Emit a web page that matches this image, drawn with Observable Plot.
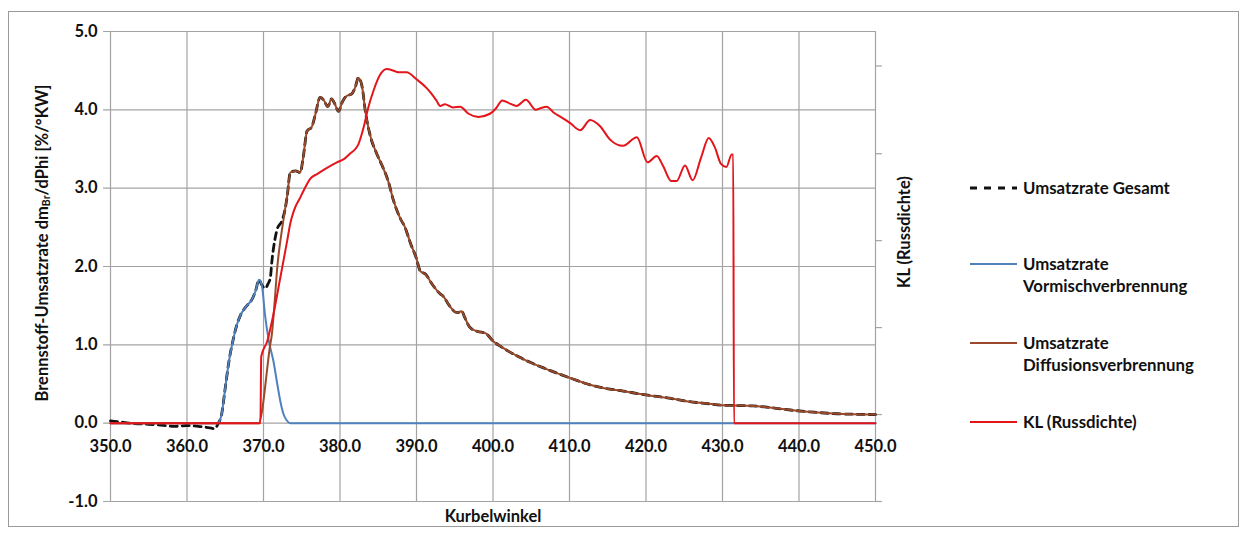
<!DOCTYPE html>
<html>
<head>
<meta charset="utf-8">
<script src="https://cdn.jsdelivr.net/npm/d3@7"></script>
<script src="https://cdn.jsdelivr.net/npm/@observablehq/plot@0.6"></script>
<style>
  body { margin: 0; background: #fff; font-family: Lato, "Open Sans", sans-serif; }
  #wrap { position: relative; width: 1246px; height: 540px; }
  #chart { position: absolute; left: 0; top: 0; }
  .frame { position: absolute; left: 8px; top: 11px; width: 1231px; height: 516px; border: 1.5px solid #9a9a9a; box-sizing: border-box; pointer-events: none; }
  .t { position: absolute; font-weight: 700; font-size: 16.5px; color: #111; white-space: nowrap; }
  .leg { position: absolute; font-weight: 700; font-size: 16.8px; color: #111; line-height: 22px; white-space: nowrap; }
  .sw { position: absolute; }
</style>
</head>
<body>
<div id="wrap">
  <div id="chart"></div>
</div>
<script>
// ---- data ----
const xTicks = [350, 360, 370, 380, 390, 400, 410, 420, 430, 440, 450];
const yTicks = [-1, 0, 1, 2, 3, 4, 5];
// secondary (KL) axis ticks, expressed in primary-axis units
const rightTicks = [-1.0, 0.11, 1.22, 2.33, 3.44, 4.56];

const seriesNames = ["Umsatzrate Gesamt", "Umsatzrate Vormischverbrennung", "Umsatzrate Diffusionsverbrennung", "KL (Russdichte)"];

const gesamtX = [350, 351, 352.5, 354, 356, 358.5, 360, 361.5, 363, 363.6, 364.1, 364.5, 365, 365.5, 366, 366.5, 367, 367.5, 368, 368.5, 369, 369.4, 369.8, 370.2, 370.6, 370.9, 371.1, 371.5, 371.8, 372.4, 372.8, 373.1, 373.5, 374.2, 374.8, 375.2, 375.7, 376.3, 376.8, 377.4, 377.9, 378.4, 378.9, 379.3, 379.8, 380.3, 380.9, 381.5, 382.0, 382.4, 382.9, 383.3, 383.9, 384.8, 385.5, 386.3, 387.0, 387.9, 388.5, 389.2, 390, 390.5, 391.2, 392, 393.1, 393.5, 394.3, 395.3, 395.9, 396.3, 397.0, 398, 399, 400, 401, 402, 403.5, 405, 407, 410, 412, 414.4, 417, 420, 423, 425.3, 428, 430, 434, 437, 439.6, 442, 445, 450];
const gesamtY = [0.03, 0.02, 0.0, -0.01, -0.02, -0.04, -0.03, -0.04, -0.06, -0.07, 0.0, 0.1, 0.45, 0.8, 1.05, 1.25, 1.38, 1.46, 1.52, 1.58, 1.7, 1.83, 1.76, 1.72, 1.78, 1.86, 2.07, 2.35, 2.48, 2.58, 2.72, 2.9, 3.2, 3.22, 3.2, 3.4, 3.73, 3.78, 3.95, 4.16, 4.12, 4.04, 4.14, 4.08, 3.98, 4.1, 4.18, 4.2, 4.29, 4.41, 4.29, 3.99, 3.69, 3.44, 3.29, 3.09, 2.84, 2.61, 2.5, 2.3, 2.1, 1.94, 1.9, 1.78, 1.65, 1.62, 1.5, 1.41, 1.43, 1.35, 1.22, 1.17, 1.15, 1.05, 0.98, 0.92, 0.84, 0.77, 0.69, 0.58, 0.51, 0.45, 0.41, 0.36, 0.32, 0.28, 0.25, 0.23, 0.22, 0.19, 0.16, 0.14, 0.12, 0.11];

const vormischX = [350, 364.0, 364.5, 365, 365.5, 366, 366.5, 367, 367.5, 368, 368.5, 369, 369.4, 369.8, 370.2, 370.7, 371.3, 371.8, 372.2, 372.6, 373.0, 373.5, 450];
const vormischY = [0, 0, 0.1, 0.45, 0.8, 1.05, 1.25, 1.38, 1.46, 1.52, 1.58, 1.7, 1.83, 1.75, 1.38, 1.05, 0.79, 0.5, 0.28, 0.12, 0.04, 0, 0];

const diffusionX = [350, 369.4, 369.8, 370.2, 370.5, 370.8, 371.1, 371.5, 371.8, 372.1, 372.4, 372.8, 373.1, 373.5, 374.2, 374.8, 375.2, 375.7, 376.3, 376.8, 377.4, 377.9, 378.4, 378.9, 379.3, 379.8, 380.3, 380.9, 381.5, 382.0, 382.4, 382.9, 383.3, 383.9, 384.8, 385.5, 386.3, 387.0, 387.9, 388.5, 389.2, 390, 390.5, 391.2, 392, 393.1, 393.5, 394.3, 395.3, 395.9, 396.3, 397.0, 398, 399, 400, 401, 402, 403.5, 405, 407, 410, 412, 414.4, 417, 420, 423, 425.3, 428, 430, 434, 437, 439.6, 442, 445, 450];
const diffusionY = [0, 0, 0.15, 0.45, 0.71, 0.95, 1.14, 1.6, 1.99, 2.25, 2.46, 2.72, 2.9, 3.2, 3.22, 3.2, 3.4, 3.73, 3.78, 3.95, 4.16, 4.12, 4.04, 4.14, 4.08, 3.98, 4.1, 4.18, 4.2, 4.29, 4.41, 4.29, 3.99, 3.69, 3.44, 3.29, 3.09, 2.84, 2.61, 2.5, 2.3, 2.1, 1.94, 1.9, 1.78, 1.65, 1.62, 1.5, 1.41, 1.43, 1.35, 1.22, 1.17, 1.15, 1.05, 0.98, 0.92, 0.84, 0.77, 0.69, 0.58, 0.51, 0.45, 0.41, 0.36, 0.32, 0.28, 0.25, 0.23, 0.22, 0.19, 0.16, 0.14, 0.12, 0.11];

// KL (Russdichte), in primary-axis units
const klX = [350, 369.6, 369.7, 370.5, 371.3, 372.2, 373.1, 373.5, 374.0, 374.8, 375.4, 376.1, 377.0, 378.3, 379.6, 380.5, 381.3, 382.0, 382.4, 383.1, 383.7, 384.4, 385.2, 386.1, 387.0, 387.6, 388.7, 390.0, 391.3, 392.0, 392.6, 393.1, 393.7, 394.8, 395.7, 396.8, 398.1, 399.6, 400.4, 401.2, 402.2, 403.1, 404.3, 405.6, 406.2, 407.0, 408.0, 409.0, 410.1, 411.4, 412.7, 414.0, 415.3, 417.0, 418.8, 420.2, 421.4, 422.2, 423.3, 424.0, 425.1, 426.1, 427.2, 428.2, 429.0, 429.8, 430.5, 431.2, 431.4, 431.5, 450];
const klY = [0, 0, 0.85, 1.05, 1.39, 1.86, 2.33, 2.55, 2.72, 2.88, 3.0, 3.12, 3.18, 3.26, 3.33, 3.37, 3.44, 3.5, 3.56, 3.78, 4.03, 4.25, 4.44, 4.52, 4.5, 4.48, 4.48, 4.39, 4.28, 4.2, 4.12, 4.05, 4.07, 4.03, 4.04, 3.95, 3.91, 3.95, 4.02, 4.12, 4.08, 4.05, 4.13, 4.0, 4.02, 4.04, 3.96, 3.9, 3.83, 3.74, 3.87, 3.79, 3.62, 3.54, 3.65, 3.33, 3.41, 3.29, 3.09, 3.09, 3.29, 3.10, 3.39, 3.64, 3.52, 3.31, 3.27, 3.43, 3.43, 0, 0];

const colors = { gesamt: "#111111", vormisch: "#4f81bd", diffusion: "#9a4a2a", kl: "#e3151b" };

// ---- build tables ----
const zip = (xs, ys) => xs.map((x, i) => ({ x, y: ys[i] }));
const gesamt = zip(gesamtX, gesamtY);
const vormisch = zip(vormischX, vormischY);
const diffusion = zip(diffusionX, diffusionY);
const kl = zip(klX, klY);

const FONT = "Lato, 'Open Sans', sans-serif";
const grid = "#a3a3a3";

const chart = Plot.plot({
  width: 1246,
  height: 540,
  marginLeft: 110,
  marginRight: 371,
  marginTop: 31,
  marginBottom: 39,
  x: { domain: [350, 450], axis: null },
  y: { domain: [-1, 5], axis: null },
  style: { fontFamily: FONT, background: "transparent" },
  marks: [
    Plot.ruleX(xTicks, { x: d => d, y1: -1, y2: 5, stroke: grid, strokeWidth: 1.2 }),
    Plot.ruleY(yTicks, { y: d => d, x1: 349.1, x2: 450, stroke: grid, strokeWidth: 1.2 }),
    Plot.ruleY(rightTicks, { y: d => d, x1: 450, x2: 450.9, stroke: grid, strokeWidth: 1.2 }),
    Plot.text(yTicks, { x: 350, y: d => d, dx: -13, textAnchor: "end", text: d => d.toFixed(1), fontSize: 16.5, fontWeight: 700, fill: "#111" }),
    Plot.text(xTicks, { x: d => d, y: 0, dy: 24, text: d => d.toFixed(1), fontSize: 16.5, fontWeight: 700, fill: "#111" }),
    Plot.line(gesamt, { x: "x", y: "y", stroke: colors.gesamt, strokeWidth: 2.8, strokeDasharray: "7,5", curve: "monotone-x" }),
    Plot.line(vormisch, { x: "x", y: "y", stroke: colors.vormisch, strokeWidth: 2, curve: "monotone-x" }),
    Plot.line(diffusion, { x: "x", y: "y", stroke: colors.diffusion, strokeWidth: 2, curve: "monotone-x" }),
    Plot.line(kl, { x: "x", y: "y", stroke: colors.kl, strokeWidth: 2, curve: "monotone-x" })
  ]
});
document.getElementById("chart").appendChild(chart);

// ---- titles, frame, legend ----
const wrap = document.getElementById("wrap");
function add(html, style, cls) {
  const d = document.createElement("div");
  d.className = cls || "t";
  d.innerHTML = html;
  Object.assign(d.style, style);
  wrap.appendChild(d);
  return d;
}
const fr = document.createElement("div"); fr.className = "frame"; wrap.appendChild(fr);

add("Kurbelwinkel", { left: "493px", top: "516px", transform: "translate(-50%,-50%)" });
add("Brennstoff-Umsatzrate dm<sub style='font-size:10.5px;vertical-align:-2px'>Br</sub>/dPhi [%/°KW]",
    { left: "42px", top: "243px", transform: "translate(-50%,-50%) rotate(-90deg)" });
add("KL (Russdichte)", { left: "904px", top: "232px", transform: "translate(-50%,-50%) rotate(-90deg)" });

const legend = [
  { lines: [seriesNames[0]], y: 188, color: colors.gesamt, dash: "7,7", w: 2.8 },
  { lines: ["Umsatzrate", "Vormischverbrennung"], y: 264, color: colors.vormisch, w: 2 },
  { lines: ["Umsatzrate", "Diffusionsverbrennung"], y: 343, color: colors.diffusion, w: 2 },
  { lines: [seriesNames[3]], y: 422, color: colors.kl, w: 2.2 }
];
for (const e of legend) {
  const s = document.createElementNS("http://www.w3.org/2000/svg", "svg");
  s.setAttribute("width", 50); s.setAttribute("height", 10);
  s.setAttribute("class", "sw");
  s.style.left = "969px"; s.style.top = (e.y - 5) + "px";
  const l = document.createElementNS("http://www.w3.org/2000/svg", "line");
  l.setAttribute("x1", 1); l.setAttribute("x2", 48); l.setAttribute("y1", 5); l.setAttribute("y2", 5);
  l.setAttribute("stroke", e.color); l.setAttribute("stroke-width", e.w);
  if (e.dash) l.setAttribute("stroke-dasharray", e.dash);
  s.appendChild(l);
  wrap.appendChild(s);
  add(e.lines.join("<br>"), { left: "1023px", top: (e.y - 11) + "px" }, "leg");
}
</script>
</body>
</html>
